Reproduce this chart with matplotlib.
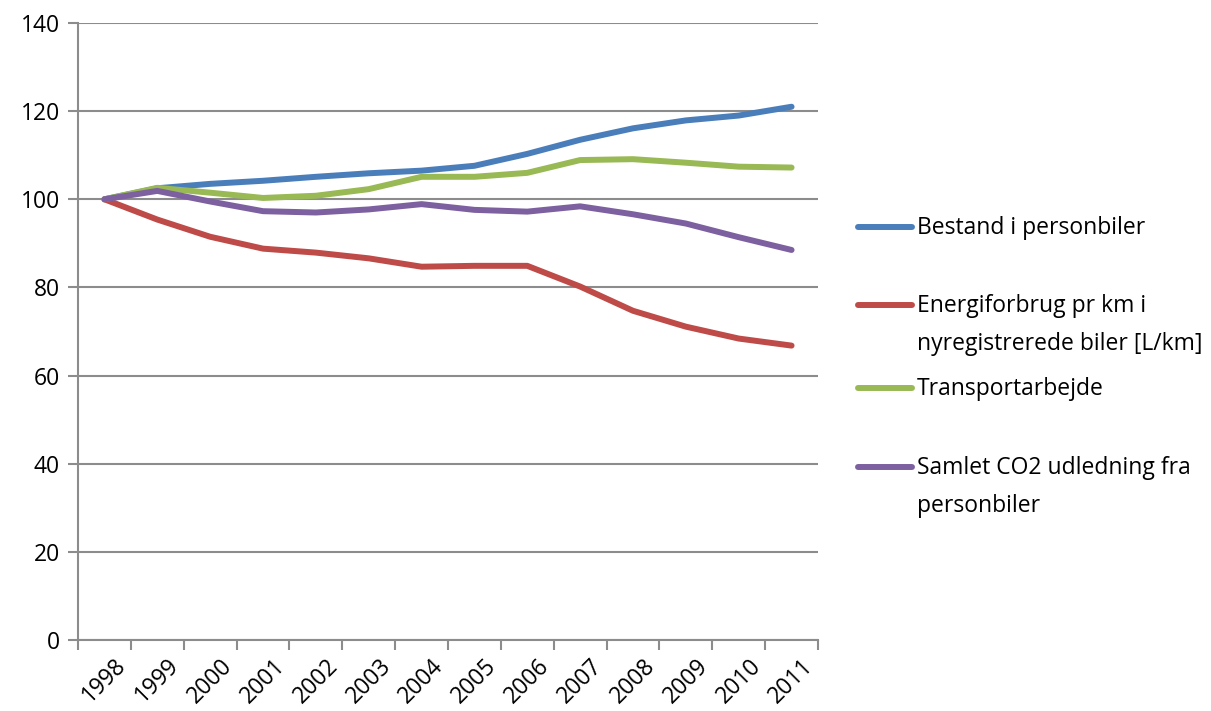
import matplotlib.pyplot as plt
from matplotlib.lines import Line2D

plt.rcParams["font.family"] = ["Open Sans", "DejaVu Sans"]

years = ["1998", "1999", "2000", "2001", "2002", "2003", "2004",
         "2005", "2006", "2007", "2008", "2009", "2010", "2011"]

bestand = [100, 102.5, 103.5, 104.2, 105.1, 105.9, 106.5,
           107.6, 110.3, 113.5, 116.1, 117.9, 119.0, 121.0]
energi = [100, 95.4, 91.5, 88.8, 87.9, 86.6, 84.7,
          84.9, 84.9, 80.2, 74.7, 71.1, 68.4, 66.8]
transport = [100, 102.6, 101.5, 100.3, 100.8, 102.3, 105.1,
             105.1, 106.0, 108.9, 109.1, 108.3, 107.4, 107.2]
co2 = [100, 101.9, 99.5, 97.3, 97.0, 97.7, 98.9,
       97.6, 97.2, 98.4, 96.6, 94.5, 91.4, 88.5]

labels = ["Bestand i personbiler",
          "Energiforbrug pr km i\nnyregistrerede biler [L/km]",
          "Transportarbejde",
          "Samlet CO2 udledning fra\npersonbiler"]
colors = ["#4A7EBB", "#BE4B48", "#98B954", "#7D60A0"]

W, H = 1211, 711
fig = plt.figure(figsize=(W / 100, H / 100), dpi=100)
ax = fig.add_axes([78 / W, (H - 640) / H, (818 - 78) / W, (640 - 23) / H])

x = list(range(len(years)))
for vals, c in zip([bestand, energi, transport, co2], colors):
    ax.plot(x, vals, color=c, lw=4.3, solid_capstyle="round", solid_joinstyle="round")

grid_c = "#8C8C8C"
fs = 16.5
ax.set_xlim(-0.5, len(years) - 0.5)
ax.set_ylim(0, 140)
ax.set_yticks(range(0, 141, 20))
ax.yaxis.grid(True, color=grid_c, lw=1.5)
ax.set_axisbelow(True)
for s in ["top", "right"]:
    ax.spines[s].set_visible(False)
for s in ["left", "bottom"]:
    ax.spines[s].set_color(grid_c)
    ax.spines[s].set_linewidth(1.5)

ax.set_xticks(x)
ax.set_xticklabels(years, rotation=45, ha="center")
ax.set_xticks([i - 0.5 for i in range(len(years) + 1)], minor=True)
ax.tick_params(axis="x", which="major", length=0, pad=10, labelsize=fs)
ax.tick_params(axis="x", which="minor", length=7, width=1.5, color=grid_c, direction="out")
ax.tick_params(axis="y", length=7, width=1.5, color=grid_c, pad=6, labelsize=fs)

# legend drawn by hand so two-line entries keep the line at their first row
leg_y = [227, 305, 388, 467]
for ly, lab, c in zip(leg_y, labels, colors):
    fig.add_artist(Line2D([858 / W, 912 / W], [1 - ly / H, 1 - ly / H],
                          color=c, lw=4.3, solid_capstyle="round"))
    fig.text(917 / W, 1 - (ly - 11) / H, lab, fontsize=fs, va="top",
             ha="left", linespacing=1.75)

fig.savefig("out.png", dpi=100)
